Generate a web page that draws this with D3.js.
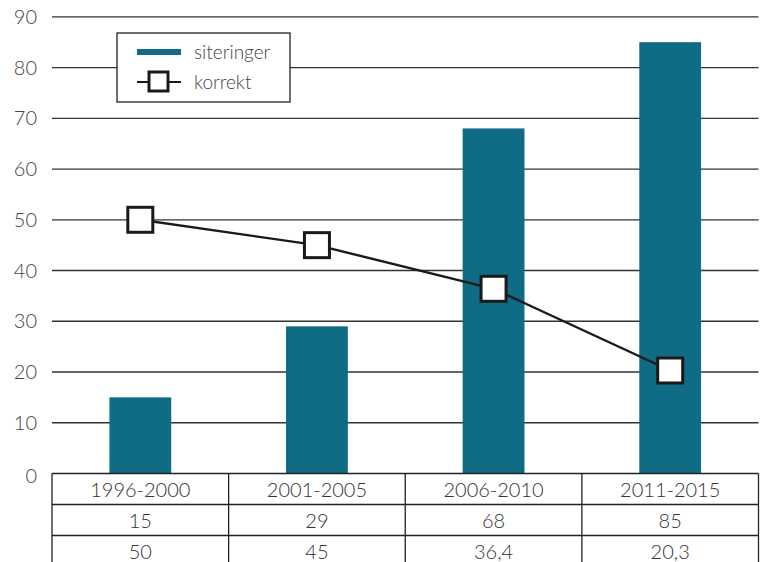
<!DOCTYPE html>
<html>
<head>
<meta charset="utf-8">
<script src="https://cdn.jsdelivr.net/npm/d3@7"></script>
<style>
  body { margin: 0; background: #fff; }
  svg { display: block; font-family: Lato, "Open Sans", sans-serif; font-weight: 300; }
</style>
</head>
<body>
<svg id="chart"></svg>
<script>
const periods = ["1996-2000", "2001-2005", "2006-2010", "2011-2015"];
const siteringer = [15, 29, 68, 85];
const korrekt = [50, 45, 36.4, 20.3];
const korrektLabels = ["50", "45", "36,4", "20,3"];
const yTicks = [0, 10, 20, 30, 40, 50, 60, 70, 80, 90];

const width = 760, height = 562;
const plotLeft = 52, plotRight = 758.5, plotTop = 16.8, zeroY = 473.5, rowH = 31;

const svg = d3.select("#chart").attr("width", width).attr("height", height);

const x = d3.scaleBand().domain(periods).range([plotLeft, plotRight]).paddingInner(0).paddingOuter(0);
const y = d3.scaleLinear().domain([0, 90]).range([zeroY, plotTop]);

// gridlines
svg.append("g").selectAll("line")
  .data(yTicks.filter(d => d > 0))
  .enter().append("line")
  .attr("x1", plotLeft).attr("x2", plotRight)
  .attr("y1", d => y(d)).attr("y2", d => y(d))
  .style("stroke", "#333").style("stroke-width", 1.3);

// y tick labels
svg.append("g").selectAll("text")
  .data(yTicks)
  .enter().append("text")
  .attr("x", 37)
  .attr("y", d => y(d) + (d === 0 ? 9 : 7))
  .attr("text-anchor", "end")
  .style("font-size", "20px")
  .style("fill", "#444")
  .text(d => d);

// bars
const barW = x.bandwidth() * 0.35;
svg.append("g").selectAll("rect")
  .data(siteringer)
  .enter().append("rect")
  .attr("x", (d, i) => x(periods[i]) + x.bandwidth() / 2 - barW / 2)
  .attr("y", d => y(d))
  .attr("width", barW)
  .attr("height", d => zeroY - y(d))
  .style("fill", "#106B84");

// line
const line = d3.line()
  .x((d, i) => x(periods[i]) + x.bandwidth() / 2)
  .y(d => y(d));
svg.append("path")
  .datum(korrekt)
  .attr("d", line)
  .style("fill", "none")
  .style("stroke", "#1a1a1a")
  .style("stroke-width", 2.4);

const mk = 25;
svg.append("g").selectAll("rect")
  .data(korrekt)
  .enter().append("rect")
  .attr("x", (d, i) => x(periods[i]) + x.bandwidth() / 2 - mk / 2)
  .attr("y", d => y(d) - mk / 2)
  .attr("width", mk).attr("height", mk)
  .style("fill", "#fff")
  .style("stroke", "#1a1a1a")
  .style("stroke-width", 3);

// data table
const rows = [periods, siteringer.map(String), korrektLabels];
const table = svg.append("g");
table.selectAll("line.h")
  .data(d3.range(rows.length + 1))
  .enter().append("line")
  .attr("x1", plotLeft).attr("x2", plotRight)
  .attr("y1", r => zeroY + r * rowH).attr("y2", r => zeroY + r * rowH)
  .style("stroke", "#222").style("stroke-width", 1.3);
table.selectAll("line.v")
  .data(periods.map(p => x(p)).concat([plotRight]))
  .enter().append("line")
  .attr("x1", d => d).attr("x2", d => d)
  .attr("y1", zeroY).attr("y2", height)
  .style("stroke", "#222").style("stroke-width", 1.3);
rows.forEach((row, r) => {
  table.selectAll("text.r" + r)
    .data(row)
    .enter().append("text")
    .attr("x", (d, i) => x(periods[i]) + x.bandwidth() / 2)
    .attr("y", zeroY + r * rowH + 23)
    .attr("text-anchor", "middle")
    .style("font-size", "20px")
    .style("fill", "#333")
    .text(d => d);
});

// legend
const lg = svg.append("g");
lg.append("rect")
  .attr("x", 117).attr("y", 33).attr("width", 173).attr("height", 69)
  .style("fill", "#fff").style("stroke", "#222").style("stroke-width", 1.3);
lg.append("line")
  .attr("x1", 137).attr("x2", 181).attr("y1", 52).attr("y2", 52)
  .style("stroke", "#106B84").style("stroke-width", 6);
lg.append("line")
  .attr("x1", 137).attr("x2", 181).attr("y1", 82).attr("y2", 82)
  .style("stroke", "#1a1a1a").style("stroke-width", 2);
lg.append("rect")
  .attr("x", 149).attr("y", 72).attr("width", 19).attr("height", 19)
  .style("fill", "#fff").style("stroke", "#1a1a1a").style("stroke-width", 3);
lg.append("text").attr("x", 194).attr("y", 59)
  .style("font-size", "19px").style("fill", "#444").text("siteringer");
lg.append("text").attr("x", 194).attr("y", 89)
  .style("font-size", "19px").style("fill", "#444").text("korrekt");
</script>
</body>
</html>
